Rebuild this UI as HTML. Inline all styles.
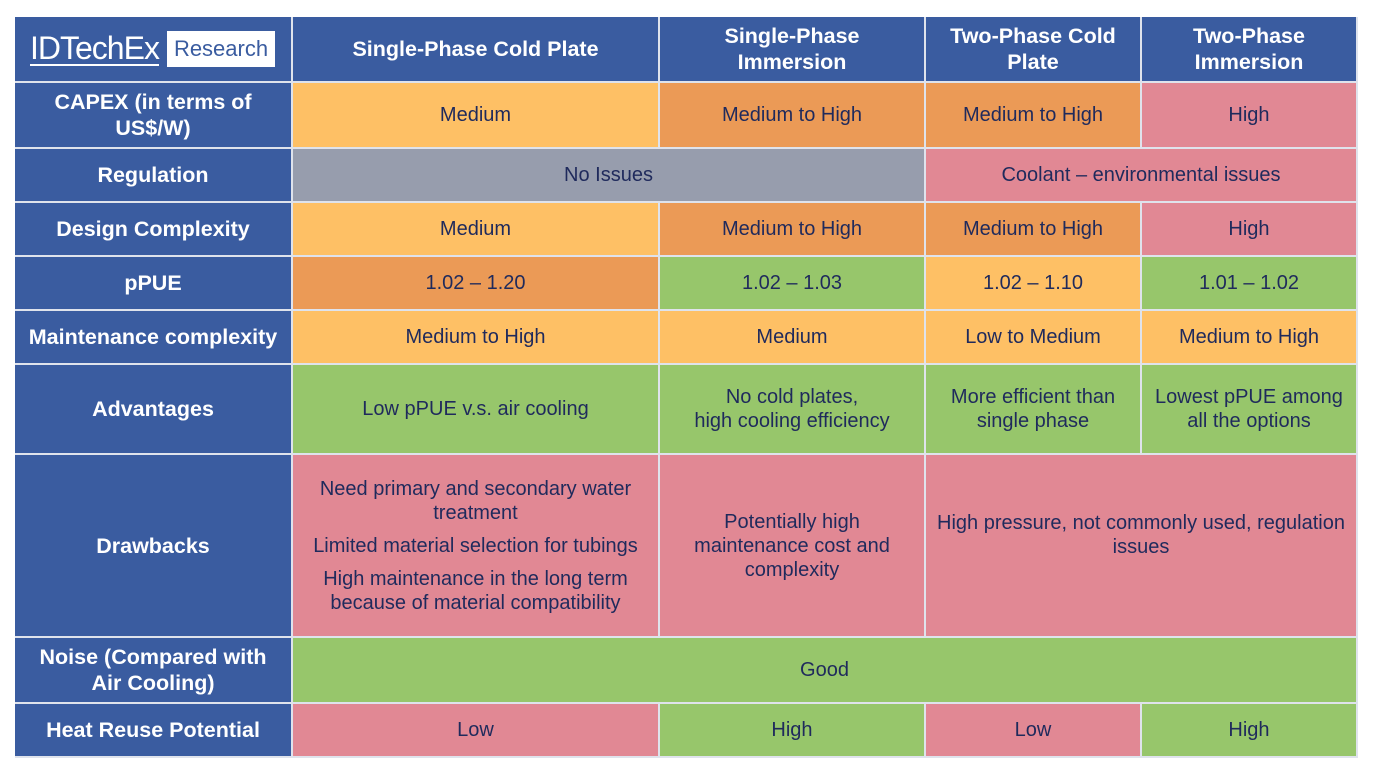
<!DOCTYPE html><html><head><style>
body{margin:0;width:1378px;height:776px;background:#fff;position:relative;font-family:"Liberation Sans",sans-serif;overflow:hidden}
.c{position:absolute;box-sizing:border-box;display:flex;align-items:center;justify-content:center;text-align:center;font-size:20px;line-height:24px;color:#1f2a5c;border-right:2px solid #dfe3ec;border-bottom:2px solid #dfe3ec}
.h{background:#3a5ca0;color:#fff;font-weight:bold;font-size:21.5px;line-height:26px}
.y{background:#fec065}.o{background:#eb9a56}.p{background:#e18894}.g{background:#97c66b}.s{background:#979dad}
</style></head><body>
<div class="c h" style="left:15px;top:17px;width:278px;height:66px;justify-content:flex-start;padding-left:15px"><span style="font-weight:normal;font-size:32px;letter-spacing:-1px;border-bottom:2px solid #fff;line-height:32px">IDTechEx</span><span style="background:#fff;color:#3a5ca0;font-weight:normal;font-size:22px;padding:3px 7px;margin-left:8px;line-height:30px">Research</span></div>
<div class="c h" style="left:293px;top:17px;width:367px;height:66px">Single-Phase Cold Plate</div>
<div class="c h" style="left:660px;top:17px;width:266px;height:66px">Single-Phase<br>Immersion</div>
<div class="c h" style="left:926px;top:17px;width:216px;height:66px">Two-Phase Cold<br>Plate</div>
<div class="c h" style="left:1142px;top:17px;width:216px;height:66px">Two-Phase<br>Immersion</div>

<div class="c h" style="left:15px;top:83px;width:278px;height:66px">CAPEX (in terms of<br>US$/W)</div>
<div class="c y" style="left:293px;top:83px;width:367px;height:66px">Medium</div>
<div class="c o" style="left:660px;top:83px;width:266px;height:66px">Medium to High</div>
<div class="c o" style="left:926px;top:83px;width:216px;height:66px">Medium to High</div>
<div class="c p" style="left:1142px;top:83px;width:216px;height:66px">High</div>

<div class="c h" style="left:15px;top:149px;width:278px;height:54px">Regulation</div>
<div class="c s" style="left:293px;top:149px;width:633px;height:54px">No Issues</div>
<div class="c p" style="left:926px;top:149px;width:432px;height:54px">Coolant – environmental issues</div>

<div class="c h" style="left:15px;top:203px;width:278px;height:54px">Design Complexity</div>
<div class="c y" style="left:293px;top:203px;width:367px;height:54px">Medium</div>
<div class="c o" style="left:660px;top:203px;width:266px;height:54px">Medium to High</div>
<div class="c o" style="left:926px;top:203px;width:216px;height:54px">Medium to High</div>
<div class="c p" style="left:1142px;top:203px;width:216px;height:54px">High</div>

<div class="c h" style="left:15px;top:257px;width:278px;height:54px">pPUE</div>
<div class="c o" style="left:293px;top:257px;width:367px;height:54px">1.02 – 1.20</div>
<div class="c g" style="left:660px;top:257px;width:266px;height:54px">1.02 – 1.03</div>
<div class="c y" style="left:926px;top:257px;width:216px;height:54px">1.02 – 1.10</div>
<div class="c g" style="left:1142px;top:257px;width:216px;height:54px">1.01 – 1.02</div>

<div class="c h" style="left:15px;top:311px;width:278px;height:54px">Maintenance complexity</div>
<div class="c y" style="left:293px;top:311px;width:367px;height:54px">Medium to High</div>
<div class="c y" style="left:660px;top:311px;width:266px;height:54px">Medium</div>
<div class="c y" style="left:926px;top:311px;width:216px;height:54px">Low to Medium</div>
<div class="c y" style="left:1142px;top:311px;width:216px;height:54px">Medium to High</div>

<div class="c h" style="left:15px;top:365px;width:278px;height:90px">Advantages</div>
<div class="c g" style="left:293px;top:365px;width:367px;height:90px">Low pPUE v.s. air cooling</div>
<div class="c g" style="left:660px;top:365px;width:266px;height:90px">No cold plates,<br>high cooling efficiency</div>
<div class="c g" style="left:926px;top:365px;width:216px;height:90px">More efficient than<br>single phase</div>
<div class="c g" style="left:1142px;top:365px;width:216px;height:90px">Lowest pPUE among<br>all the options</div>

<div class="c h" style="left:15px;top:455px;width:278px;height:183px">Drawbacks</div>
<div class="c p" style="left:293px;top:455px;width:367px;height:183px;flex-direction:column"><div>Need primary and secondary water<br>treatment</div><div style="margin-top:9px">Limited material selection for tubings</div><div style="margin-top:9px">High maintenance in the long term<br>because of material compatibility</div></div>
<div class="c p" style="left:660px;top:455px;width:266px;height:183px">Potentially high<br>maintenance cost and<br>complexity</div>
<div class="c p" style="left:926px;top:455px;width:432px;height:183px;padding-bottom:22px">High pressure, not commonly used, regulation<br>issues</div>

<div class="c h" style="left:15px;top:638px;width:278px;height:66px">Noise (Compared with<br>Air Cooling)</div>
<div class="c g" style="left:293px;top:638px;width:1065px;height:66px">Good</div>

<div class="c h" style="left:15px;top:704px;width:278px;height:54px">Heat Reuse Potential</div>
<div class="c p" style="left:293px;top:704px;width:367px;height:54px">Low</div>
<div class="c g" style="left:660px;top:704px;width:266px;height:54px">High</div>
<div class="c p" style="left:926px;top:704px;width:216px;height:54px">Low</div>
<div class="c g" style="left:1142px;top:704px;width:216px;height:54px">High</div>
</body></html>
